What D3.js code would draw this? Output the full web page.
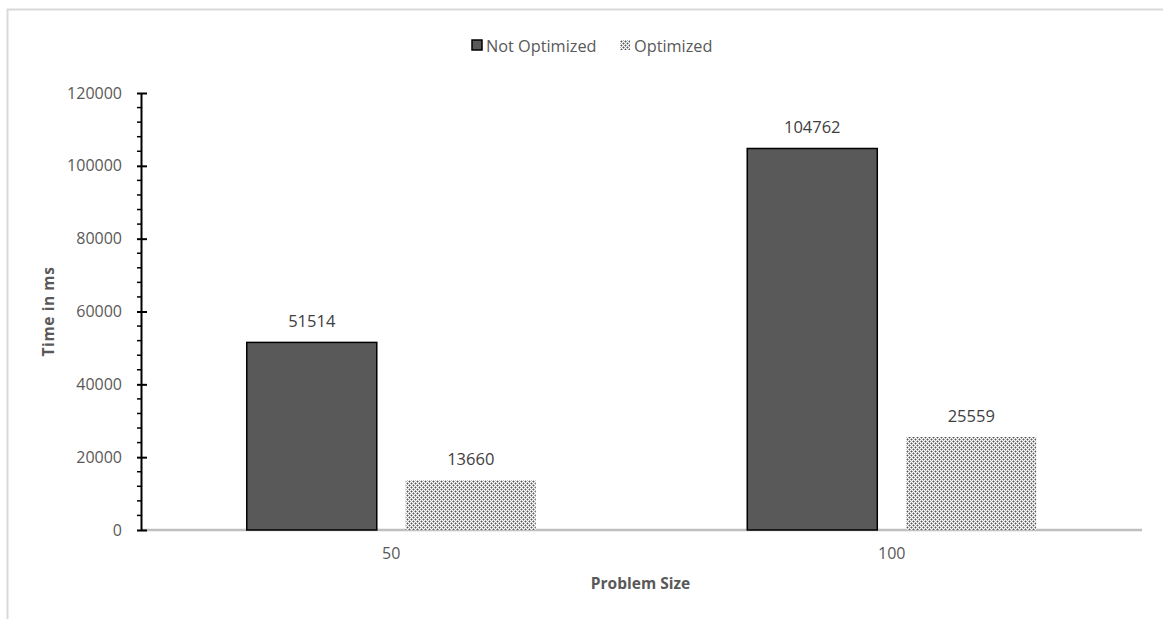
<!DOCTYPE html>
<html><head><meta charset="utf-8">
<script src="https://cdn.jsdelivr.net/npm/d3@7"></script>
<style>body{margin:0;background:#fff}svg{display:block}text{font-family:"Open Sans","Noto Sans",sans-serif}</style>
</head><body>
<svg id="c" width="1163" height="619"></svg>
<script>
const categories = ["50", "100"];
const seriesNames = ["Not Optimized", "Optimized"];
const notOptimized = [51514, 104762];
const optimized = [13660, 25559];
const yTicks = [0, 20000, 40000, 60000, 80000, 100000, 120000];

const svg = d3.select("#c");
const defs = svg.append("defs");
const pat = defs.append("pattern").attr("id","dots").attr("patternUnits","userSpaceOnUse").attr("width",4).attr("height",4);
pat.append("rect").attr("width",4).attr("height",4).attr("fill","#ffffff");
[[1,0],[0,1],[2,1],[1,2],[3,2],[2,3],[3,0],[0,3]].forEach(([x,y])=>pat.append("rect").attr("x",x).attr("y",y).attr("width",1).attr("height",1).attr("fill","#b0b0b0"));
[[1,1],[3,3]].forEach(([x,y])=>pat.append("rect").attr("x",x).attr("y",y).attr("width",1).attr("height",1).attr("fill","#555555"));

// frame
svg.append("path").attr("d","M7.5,1163 V9.5 H1163").attr("fill","none").attr("stroke","#d9d9d9").attr("stroke-width",2);

const L=141, R=1142, T=93, B=530;
const x0 = d3.scaleBand().domain(categories).range([L,R]);
const x1 = d3.scaleBand().domain(seriesNames).range([0,289]).paddingInner(0.182);
const y = d3.scaleLinear().domain([0,120000]).range([B,T]);
const data = categories.map((c,i)=>({cat:c, vals:[notOptimized[i], optimized[i]]}));

// x axis line
svg.append("line").attr("x1",L).attr("x2",R).attr("y1",B).attr("y2",B).attr("stroke","#bfbfbf").attr("stroke-width",2.5);

// bars
const g = svg.append("g");
data.forEach(d=>{
  const gx = x0(d.cat) + x0.bandwidth()/2 - 289/2;
  d.vals.forEach((v,j)=>{
    const bx = gx + x1(seriesNames[j]);
    g.append("rect").attr("x",bx).attr("y",y(v)).attr("width",x1.bandwidth()).attr("height",B-y(v))
      .attr("fill", j===0?"#595959":"url(#dots)")
      .attr("stroke", j===0?"#000":"none").attr("stroke-width",1.5);
    g.append("text").attr("x",bx+x1.bandwidth()/2).attr("y",y(v)-15).attr("text-anchor","middle")
      .attr("font-size",16.5).attr("fill","#404040").text(v);
  });
});

// y axis
const yAxis = d3.axisLeft(y).tickValues(yTicks).tickFormat(d3.format("d")).tickSize(4).tickPadding(15).tickSizeOuter(0);
const ya = svg.append("g").attr("transform",`translate(${L},0)`).call(yAxis);
ya.select(".domain").attr("stroke","#000").attr("stroke-width",2);
ya.selectAll(".tick line").attr("stroke","#000").attr("stroke-width",2).attr("x1",6);
ya.selectAll(".tick text").attr("font-size",16).attr("fill","#595959").attr("font-family","'Open Sans',sans-serif");
const minor = d3.range(0,120001,4000).filter(v=>v%20000!==0);
svg.append("g").selectAll("line").data(minor).join("line")
  .attr("x1",L-4).attr("x2",L).attr("y1",d=>y(d)).attr("y2",d=>y(d)).attr("stroke","#000").attr("stroke-width",1.5);

// category labels
svg.append("g").selectAll("text").data(categories).join("text")
  .attr("x",d=>x0(d)+x0.bandwidth()/2).attr("y",559).attr("text-anchor","middle")
  .attr("font-size",16).attr("fill","#595959").text(d=>d);

// axis titles
svg.append("text").attr("x",640.5).attr("y",589).attr("text-anchor","middle").attr("font-size",15.5)
  .attr("font-weight","bold").attr("fill","#595959").text("Problem Size");
svg.append("text").attr("transform",`translate(54,${(T+B)/2}) rotate(-90)`).attr("text-anchor","middle")
  .attr("font-size",15.5).attr("font-weight","bold").attr("fill","#595959").attr("letter-spacing",0.6).text("Time in ms");

// legend
const leg = svg.append("g");
const legItems = [{name:seriesNames[0], x:472, fill:"#595959", stroke:"#000"},{name:seriesNames[1], x:620, fill:"url(#dots)", stroke:"none"}];
legItems.forEach(it=>{
  leg.append("rect").attr("x",it.x).attr("y",40).attr("width",10).attr("height",10).attr("fill",it.fill).attr("stroke",it.stroke).attr("stroke-width",1.5);
  leg.append("text").attr("x",it.x+14).attr("y",52).attr("font-size",16.3).attr("fill","#595959").text(it.name);
});
</script>
</body></html>
